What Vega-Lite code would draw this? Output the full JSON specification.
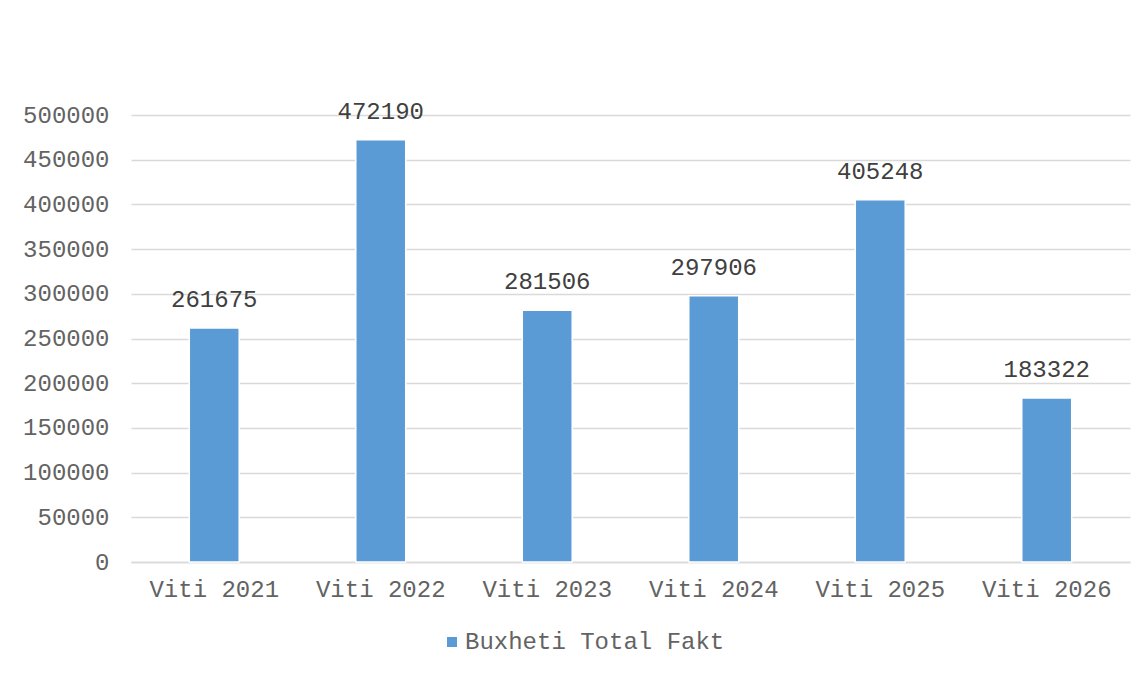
{
  "$schema": "https://vega.github.io/schema/vega-lite/v6.json",
  "width": 999,
  "height": 447,
  "autosize": {"type": "none"},
  "padding": {"left": 131, "top": 115, "right": 13, "bottom": 112},
  "background": "white",
  "config": {
    "view": {"stroke": null},
    "font": "Liberation Mono",
    "axis": {"labelFont": "Liberation Mono", "labelColor": "#636363", "labelFontSize": 24, "gridColor": "#d9d9d9", "gridWidth": 1.5, "ticks": false, "domain": false, "title": null}
  },
  "data": {
    "values": [
      {"year": "Viti 2021", "value": 261675, "series": "Buxheti Total Fakt"},
      {"year": "Viti 2022", "value": 472190, "series": "Buxheti Total Fakt"},
      {"year": "Viti 2023", "value": 281506, "series": "Buxheti Total Fakt"},
      {"year": "Viti 2024", "value": 297906, "series": "Buxheti Total Fakt"},
      {"year": "Viti 2025", "value": 405248, "series": "Buxheti Total Fakt"},
      {"year": "Viti 2026", "value": 183322, "series": "Buxheti Total Fakt"}
    ]
  },
  "encoding": {
    "x": {"field": "year", "type": "nominal", "sort": null,
      "scale": {"paddingInner": 0.7, "paddingOuter": 0.35},
      "axis": {"labelAngle": 0, "labelPadding": 15, "grid": false, "domain": true, "domainColor": "#d9d9d9", "domainWidth": 1.5}},
    "y": {"field": "value", "type": "quantitative",
      "scale": {"domain": [0, 500000], "nice": false},
      "axis": {"values": [0, 50000, 100000, 150000, 200000, 250000, 300000, 350000, 400000, 450000, 500000], "labelPadding": 22, "format": "d"}}
  },
  "layer": [
    {
      "mark": {"type": "bar", "stroke": "white", "strokeWidth": 1.5},
      "encoding": {
        "color": {"field": "series", "type": "nominal", "scale": {"range": ["#5B9BD5"]},
          "legend": {"title": null, "orient": "none", "legendX": 309, "legendY": 515, "symbolType": "square", "symbolSize": 100, "symbolStrokeWidth": 0, "labelFont": "Liberation Mono", "labelFontSize": 24, "labelColor": "#636363", "labelOffset": 1, "labelLimit": 0}}
      }
    },
    {
      "mark": {"type": "text", "baseline": "bottom", "dy": -16, "font": "Liberation Mono", "fontSize": 24, "color": "#404040"},
      "encoding": {"text": {"field": "value", "type": "quantitative", "format": "d"}}
    }
  ]
}
